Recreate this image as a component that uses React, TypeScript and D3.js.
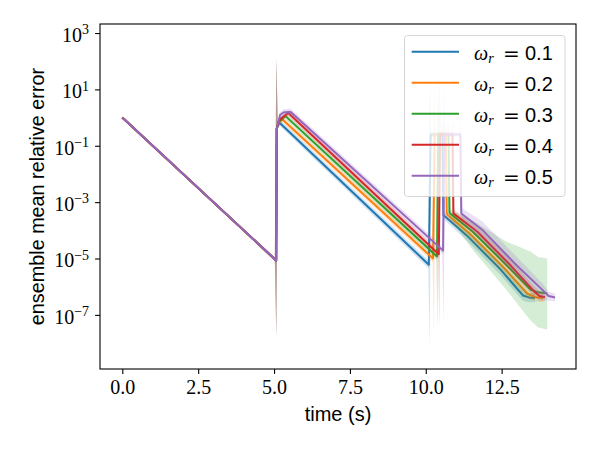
import { useRef, useEffect } from 'react';
import * as d3 from 'd3';

const omegas = [0.1, 0.2, 0.3, 0.4, 0.5];
const xTicks = [0, 2.5, 5, 7.5, 10, 12.5];
const yTickExps = [3, 1, -1, -3, -5, -7];

// time (s) and log10 of the ensemble mean relative error, with log10 of the band edges
const t01 = [0, 5.07, 5.09, 5.13, 5.2, 10.1, 10.16, 10.55, 10.58, 11.35, 12.44, 13.2, 13.4, 13.6];
const err01 = [0, -5.07, -0.4, -0.26, -0.2, -5.22, -0.6, -0.6, -3.46, -4.18, -5.36, -6.31, -6.38, -6.4];
const lo01 = [-0.04, -5.13, -0.5, -0.36, -0.31, -5.36, -0.68, -0.68, -3.6, -4.36, -5.56, -6.5, -6.55, -6.55];
const hi01 = [0.04, -5.01, -0.3, -0.16, -0.09, -5.08, -0.52, -0.52, -3.32, -4.0, -5.16, -6.12, -6.22, -6.25];
const spikes01 = [[5.075, -7.8, 2.1], [10.13, -8.16, 1.98], [10.565, -3.5, -0.05]];

const t02 = [0, 5.07, 5.09, 5.14, 5.27, 10.24, 10.29, 10.66, 10.69, 11.45, 12.55, 13.35, 13.6, 13.87];
const err02 = [0, -5.07, -0.4, -0.2, -0.06, -5.0, -0.6, -0.6, -3.42, -4.12, -5.3, -6.25, -6.37, -6.4];
const lo02 = [-0.04, -5.13, -0.5, -0.3, -0.17, -5.13, -0.68, -0.68, -3.55, -4.28, -5.48, -6.42, -6.52, -6.55];
const hi02 = [0.04, -5.01, -0.3, -0.1, 0.05, -4.87, -0.52, -0.52, -3.29, -3.96, -5.12, -6.08, -6.22, -6.25];
const spikes02 = [[5.075, -7.8, 2.1], [10.27, -7.66, 1.87], [10.675, -3.4, -0.1]];

const t03 = [0, 5.07, 5.09, 5.15, 5.37, 10.37, 10.41, 10.75, 10.78, 11.55, 12.65, 13.45, 13.7, 14.0];
const err03 = [0, -5.07, -0.4, -0.15, 0.06, -4.93, -0.6, -0.6, -3.38, -4.05, -5.22, -6.1, -6.2, -6.23];
const lo03 = [-0.04, -5.13, -0.5, -0.25, -0.05, -5.06, -0.68, -0.68, -3.55, -4.7, -6.1, -7.2, -7.45, -7.52];
const hi03 = [0.04, -5.01, -0.3, -0.05, 0.17, -4.8, -0.52, -0.52, -3.25, -3.65, -4.4, -4.75, -4.95, -5.0];
const spikes03 = [[5.075, -7.8, 2.1], [10.39, -7.56, 1.8], [10.765, -3.4, -0.1]];

const t04 = [0, 5.07, 5.09, 5.16, 5.47, 10.43, 10.47, 10.88, 10.91, 11.7, 12.8, 13.6, 13.75, 13.93];
const err04 = [0, -5.07, -0.4, -0.1, 0.16, -4.85, -0.6, -0.6, -3.4, -4.05, -5.25, -6.2, -6.33, -6.37];
const lo04 = [-0.04, -5.13, -0.5, -0.2, 0.05, -4.98, -0.68, -0.68, -3.55, -4.22, -5.45, -6.38, -6.5, -6.52];
const hi04 = [0.04, -5.01, -0.3, 0.0, 0.27, -4.72, -0.52, -0.52, -3.25, -3.88, -5.05, -6.02, -6.16, -6.22];
const spikes04 = [[5.075, -7.8, 2.1], [10.45, -7.45, 1.8], [10.895, -3.4, -0.1]];

const t05 = [0, 5.07, 5.09, 5.2, 5.33, 5.55, 10.57, 10.61, 11.14, 11.17, 11.88, 13.0, 13.86, 14.05, 14.26];
const err05 = [0, -5.07, -0.4, 0.1, 0.19, 0.2, -4.72, -0.6, -0.6, -3.4, -4.0, -5.25, -6.13, -6.33, -6.38];
const lo05 = [-0.04, -5.13, -0.5, -0.01, 0.08, 0.09, -4.86, -0.68, -0.68, -3.6, -4.35, -5.6, -6.45, -6.5, -6.52];
const hi05 = [0.04, -5.01, -0.3, 0.21, 0.3, 0.31, -4.58, -0.52, -0.52, -3.2, -3.7, -4.95, -5.9, -6.18, -6.25];
const spikes05 = [[5.075, -7.8, 2.1], [10.59, -7.3, 1.8], [11.155, -3.3, -0.1]];

const runs = [
    { t: t01, err: err01, lo: lo01, hi: hi01, spikes: spikes01 },
    { t: t02, err: err02, lo: lo02, hi: hi02, spikes: spikes02 },
    { t: t03, err: err03, lo: lo03, hi: hi03, spikes: spikes03 },
    { t: t04, err: err04, lo: lo04, hi: hi04, spikes: spikes04 },
    { t: t05, err: err05, lo: lo05, hi: hi05, spikes: spikes05 },
];

const colors = ['#1f77b4', '#ff7f0e', '#2ca02c', '#d62728', '#9467bd'];

const w = 600;
const h = 450;
const m = { left: 100, right: 576, top: 24, bottom: 369 };
const serif = "'Liberation Serif', 'Times New Roman', serif";
const sans = "'Liberation Sans', Arial, sans-serif";

interface Pt { t: number; e: number; lo: number; hi: number; }

const App = () => {
    const svgRef = useRef<SVGSVGElement | null>(null);

    useEffect(() => {
        if (!svgRef.current) return;
        const svg = d3.select(svgRef.current);
        svg.selectAll('*').remove();

        const x = d3.scaleLinear().domain([-0.735, 14.95]).range([m.left, m.right]);
        const y = d3.scaleLog().domain([Math.pow(10, -8.92), Math.pow(10, 3.32)]).range([m.bottom, m.top]);
        const p10 = (v: number) => y(Math.pow(10, v));

        svg.append('defs').append('clipPath').attr('id', 'plotclip')
            .append('rect')
            .attr('x', m.left).attr('y', m.top)
            .attr('width', m.right - m.left).attr('height', m.bottom - m.top);

        const plot = svg.append('g').attr('clip-path', 'url(#plotclip)');

        const band = d3.area<Pt>()
            .x(d => x(d.t))
            .y0(d => p10(d.lo))
            .y1(d => p10(d.hi));
        const line = d3.line<Pt>()
            .x(d => x(d.t))
            .y(d => p10(d.e));

        runs.forEach((r, i) => {
            const pts: Pt[] = r.t.map((t, j) => ({ t, e: r.err[j], lo: r.lo[j], hi: r.hi[j] }));
            const errAt = d3.scaleLinear().domain(r.t).range(r.err);

            plot.append('path')
                .datum(pts)
                .attr('d', band)
                .attr('fill', colors[i])
                .attr('fill-opacity', 0.2);

            // narrow spikes of the band
            r.spikes.forEach(([ts, slo, shi]) => {
                const dw = 0.05;
                const sp: Pt[] = [
                    { t: ts - dw, e: 0, lo: errAt(ts - dw), hi: errAt(ts - dw) },
                    { t: ts, e: 0, lo: slo, hi: shi },
                    { t: ts + dw, e: 0, lo: errAt(ts + dw), hi: errAt(ts + dw) },
                ];
                plot.append('path')
                    .datum(sp)
                    .attr('d', band)
                    .attr('fill', colors[i])
                    .attr('fill-opacity', 0.2);
            });

            plot.append('path')
                .datum(pts)
                .attr('d', line)
                .attr('fill', 'none')
                .attr('stroke', colors[i])
                .attr('stroke-width', 2)
                .attr('stroke-linejoin', 'round');
        });

        // frame
        svg.append('rect')
            .attr('x', m.left).attr('y', m.top)
            .attr('width', m.right - m.left).attr('height', m.bottom - m.top)
            .attr('fill', 'none').attr('stroke', 'black').attr('stroke-width', 1.1);

        // x axis
        const gx = svg.append('g')
            .attr('transform', `translate(0,${m.bottom})`)
            .call(d3.axisBottom(x).tickValues(xTicks).tickSize(4.9).tickPadding(5.4).tickFormat(d3.format('.1f')));
        gx.select('.domain').remove();
        gx.selectAll('line').attr('stroke-width', 1.1);
        gx.selectAll('text').attr('font-family', serif).attr('font-size', 20).attr('fill', 'black');

        // y axis
        const gy = svg.append('g')
            .attr('transform', `translate(${m.left},0)`)
            .call(d3.axisLeft(y).tickValues(yTickExps.map(e => Math.pow(10, e))).tickSize(4.9).tickPadding(6).tickFormat(() => ''));
        gy.select('.domain').remove();
        gy.selectAll('line').attr('stroke-width', 1.1);
        gy.selectAll<SVGTextElement, number>('text')
            .attr('font-family', serif)
            .attr('font-size', 20)
            .attr('fill', 'black')
            .attr('dy', '0.42em')
            .each(function (d) {
                const ex = Math.round(Math.log10(d));
                const el = d3.select(this);
                el.append('tspan').text('10');
                el.append('tspan')
                    .attr('font-size', 14)
                    .attr('dy', -7.7)
                    .text(ex < 0 ? `\u2212${-ex}` : `${ex}`);
            });

        // axis labels
        svg.append('text')
            .attr('x', (m.left + m.right) / 2).attr('y', 421)
            .attr('text-anchor', 'middle')
            .attr('font-family', sans).attr('font-size', 20)
            .text('time (s)');
        svg.append('text')
            .attr('transform', `translate(44,${(m.top + m.bottom) / 2}) rotate(-90)`)
            .attr('text-anchor', 'middle')
            .attr('font-family', sans).attr('font-size', 19.8)
            .text('ensemble mean relative error');

        // legend
        const lg = svg.append('g');
        lg.append('rect')
            .attr('x', 404.5).attr('y', 35.5).attr('width', 160.5).attr('height', 161).attr('rx', 3)
            .attr('fill', 'white').attr('fill-opacity', 0.8)
            .attr('stroke', '#cccccc').attr('stroke-opacity', 0.8).attr('stroke-width', 1);
        omegas.forEach((om, i) => {
            const ry = 51.7 + i * 31;
            lg.append('line')
                .attr('x1', 411.7).attr('x2', 459).attr('y1', ry).attr('y2', ry)
                .attr('stroke', colors[i]).attr('stroke-width', 2);
            const tx = lg.append('text').attr('y', ry + 8.3).attr('font-size', 20).attr('fill', 'black');
            tx.append('tspan').attr('x', 474).attr('font-family', serif).attr('font-style', 'italic').text('\u03c9');
            tx.append('tspan').attr('font-family', serif).attr('font-style', 'italic').attr('font-size', 14).attr('dy', 3).text('r');
            tx.append('tspan').attr('x', 503).attr('dy', -3).attr('font-family', "'DejaVu Sans', sans-serif").text('=');
            tx.append('tspan').attr('x', 525).attr('font-family', sans).text(om.toFixed(1));
        });
    }, []);

    return (
        <svg ref={svgRef} width={w} height={h} viewBox={`0 0 ${w} ${h}`}
            style={{ position: 'absolute', left: 0, top: 0, background: 'white' }} />
    );
};

export default App;
